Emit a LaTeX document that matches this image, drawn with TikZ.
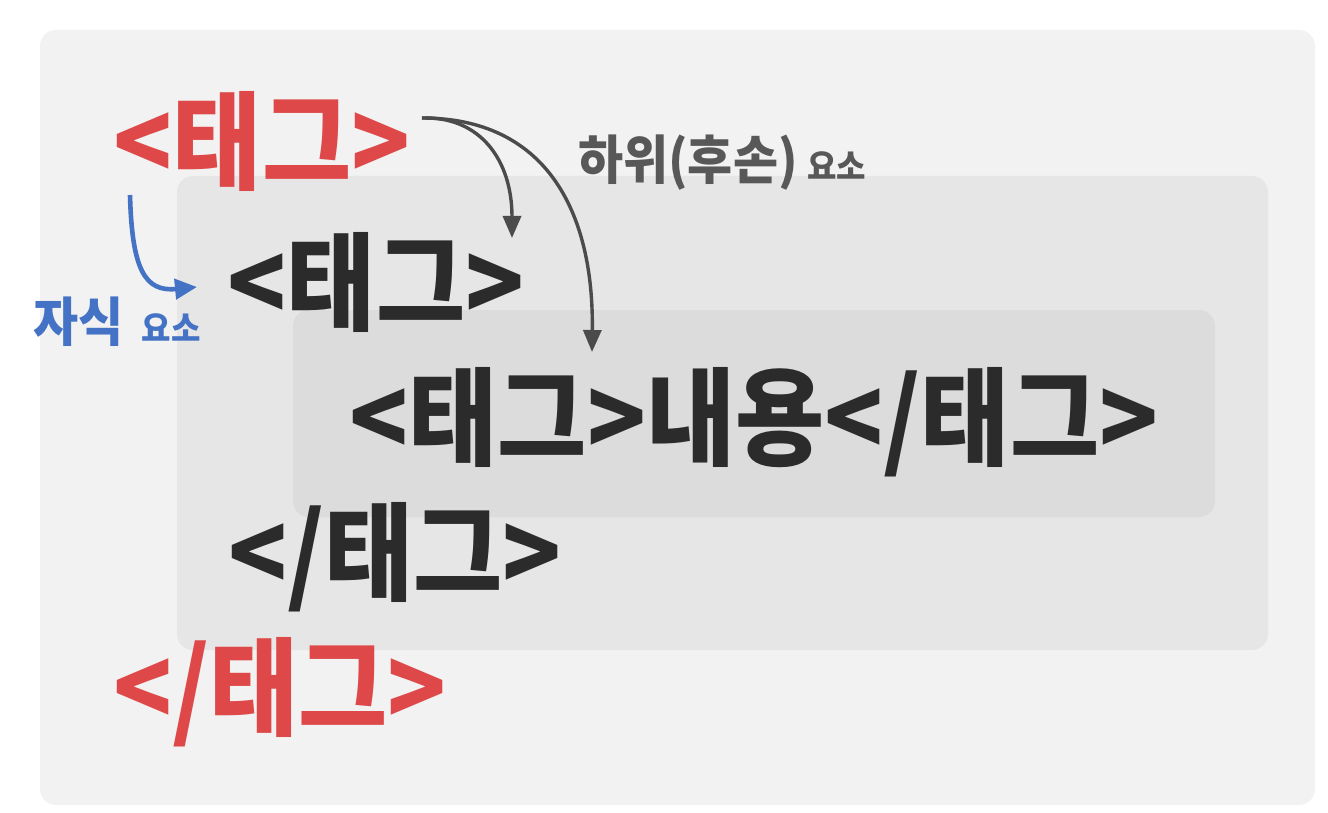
\documentclass[tikz,border=0pt]{standalone}
\usepackage{fontspec}
\setmainfont{Noto Sans CJK KR}
\usepackage{graphicx}
\usepackage{tikz}
\usetikzlibrary{arrows.meta,positioning}
\definecolor{pageGray}{RGB}{242,242,242}
\definecolor{midGray}{RGB}{230,230,230}
\definecolor{innerGray}{RGB}{220,220,220}
\definecolor{tagRed}{RGB}{222,72,72}
\definecolor{tagInk}{RGB}{43,43,43}
\definecolor{noteGray}{RGB}{88,88,88}
\definecolor{childBlue}{RGB}{68,114,196}
\newcommand{\tall}[1]{\scalebox{1}[1.1]{#1}}
\newcommand{\taller}[1]{\scalebox{1}[1.08]{#1}}

\begin{document}
\begin{tikzpicture}[
  x=1pt,y=-1pt,
  every node/.style={inner sep=0pt,font=\bfseries},
  outertag/.style={anchor=base,text=tagRed,font=\fontsize{97}{100}\selectfont\bfseries},
  innertag/.style={anchor=base,text=tagInk,font=\fontsize{97}{100}\selectfont\bfseries},
  panel/.style={rounded corners=16pt},
  bignote/.style={anchor=base west,font=\fontsize{49}{52}\selectfont\bfseries},
  smallnote/.style={font=\fontsize{32}{34}\selectfont\bfseries},
  descarrow/.style={-{Triangle[length=22pt,width=18pt]},draw=tagInk!85,line width=3.4pt},
  childarrow/.style={-{Triangle[length=22pt,width=20pt]},draw=childBlue,line width=4.6pt}
]
  \useasboundingbox (0,0) rectangle (1328,813);
  \fill[white] (0,0) rectangle (1328,813);

  % nested boxes
  \fill[pageGray,panel] (40,30) rectangle (1315,805);
  \fill[midGray,panel] (177,176) rectangle (1268,650);
  \fill[innerGray,panel] (293,310) rectangle (1215,517);

  % tags
  \node[outertag] (open) at (262,182) {\tall{<태그>}};
  \node[outertag] (close) at (280,727) {\tall{</태그>}};
  \node[innertag] (childopen) at (376,322) {\tall{<태그>}};
  \node[innertag] (childclose) at (395,592) {\tall{</태그>}};
  \node[innertag] (leaf) at (754,457) {\tall{<태그>내용</태그>}};

  % labels
  \node[bignote,text=noteGray] (desc) at (578,180) {\taller{하위(후손)}};
  \node[smallnote,text=noteGray,right=9pt of desc.base east,anchor=base west] {\taller{요소}};
  \node[bignote,text=childBlue] (child) at (33,341) {\taller{자식}};
  \node[smallnote,text=childBlue,right=18pt of child.base east,anchor=base west] {\taller{요소}};

  % arrows
  \coordinate (from) at (422,118);
  \coordinate (toChild) at (512,238);
  \coordinate (toLeaf) at (592,352);
  \coordinate (blueFrom) at (130,195);
  \coordinate (blueTo) at (197,287);
  \draw[descarrow] (from) .. controls (480,116) and (512,160) .. (toChild);
  \draw[descarrow] (from) .. controls (545,118) and (594,210) .. (toLeaf);
  \draw[childarrow] (blueFrom) .. controls (132,270) and (145,292) .. (blueTo);
\end{tikzpicture}
\end{document}
